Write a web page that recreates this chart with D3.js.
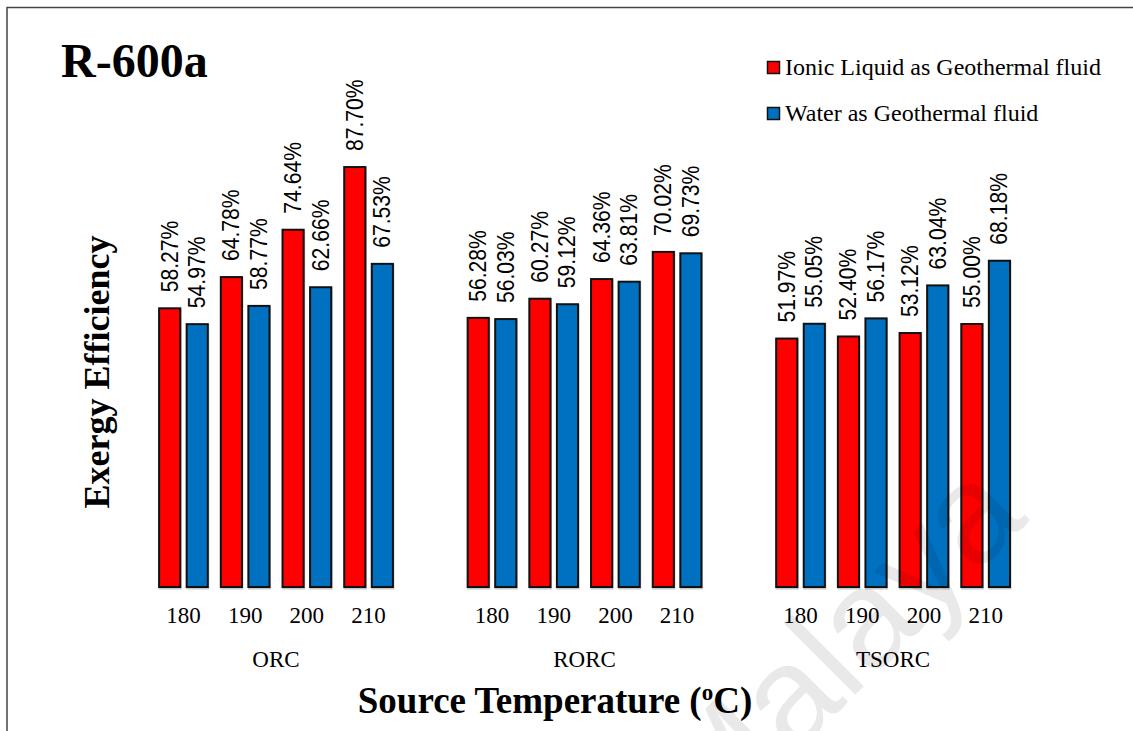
<!DOCTYPE html>
<html>
<head>
<meta charset="utf-8">
<title>R-600a exergy efficiency</title>
<script src="https://d3js.org/d3.v7.min.js"></script>
<style>
  body {margin: 0; background: white;}
  .serif {font-family: "Liberation Serif", "Times New Roman", serif; fill: black;}
  .lbl {font-family: "Liberation Sans", Arial, sans-serif; font-size: 23px; fill: black;}
</style>
</head>
<body>
<svg id="chart" width="1133" height="731"></svg>
<script>
// data
var cycles = ["ORC", "RORC", "TSORC"];
var temps = ["180", "190", "200", "210"];
var series = ["Ionic Liquid as Geothermal fluid", "Water as Geothermal fluid"];
var colors = ["#ff0000", "#0070c0"];
// values in %, one row per cycle, one entry per source temperature
var ionicLiquid = [
  [58.27, 64.78, 74.64, 87.70],
  [56.28, 60.27, 64.36, 70.02],
  [51.97, 52.40, 53.12, 55.00]
];
var water = [
  [54.97, 58.77, 62.66, 67.53],
  [56.03, 59.12, 63.81, 69.73],
  [55.05, 56.17, 63.04, 68.18]
];

var svg = d3.select("#chart");

// frame (top + left edge of the original figure)
svg.append("path")
  .attr("d", "M7,731V7.5H1133")
  .attr("fill", "none")
  .attr("stroke", "#444")
  .attr("stroke-width", 1.5);

var x = d3.scaleBand().domain(cycles).range([152.6, 1016.5]).paddingInner(0.2).paddingOuter(0);
var xt = d3.scaleBand().domain(temps).range([0, x.bandwidth()]);
var xs = d3.scaleBand().domain([0, 1]).range([5.5, xt.bandwidth() - 5.5]).paddingInner(0.16);
var y = d3.scaleLinear().domain([0, 100]).range([587, 107]);

var rows = [];
cycles.forEach(function(c, ci) {
  temps.forEach(function(t, ti) {
    [ionicLiquid[ci][ti], water[ci][ti]].forEach(function(v, si) {
      rows.push({cycle: c, temp: t, s: si, value: v});
    });
  });
});

function barX(d) { return x(d.cycle) + xt(d.temp) + xs(d.s); }

var bars = svg.append("g");
// faint shadow under bars
bars.selectAll("rect.sh").data(rows).join("rect")
  .attr("class", "sh")
  .attr("x", function(d) { return barX(d) + 0.5; })
  .attr("y", function(d) { return y(d.value) + 1; })
  .attr("width", xs.bandwidth())
  .attr("height", function(d) { return y(0) - y(d.value) + 1.5; })
  .attr("fill", "#c8c8c8");
bars.selectAll("rect.bar").data(rows).join("rect")
  .attr("class", "bar")
  .attr("x", function(d) { return barX(d) + 1; })
  .attr("y", function(d) { return y(d.value) + 1; })
  .attr("width", xs.bandwidth() - 2)
  .attr("height", function(d) { return y(0) - y(d.value) - 1; })
  .attr("fill", function(d) { return colors[d.s]; })
  .attr("stroke", "#111")
  .attr("stroke-width", 2);

// value labels
svg.append("g").selectAll("text").data(rows).join("text")
  .attr("class", "lbl")
  .attr("transform", function(d) {
    var cx = barX(d) + xs.bandwidth() / 2 + 8;
    return "translate(" + cx + "," + (y(d.value) - 15) + ") rotate(-90) scale(0.92,1)";
  })
  .text(function(d) { return d.value.toFixed(2) + "%"; });

// x axis: temperatures and cycles
var ax = svg.append("g").attr("class", "serif");
cycles.forEach(function(c) {
  ax.append("g").selectAll("text").data(temps).join("text")
    .attr("x", function(t) { return x(c) + xt(t) + xt.bandwidth() / 2; })
    .attr("y", 623)
    .attr("text-anchor", "middle")
    .attr("font-size", 23)
    .text(function(t) { return t; });
});
ax.append("g").selectAll("text").data(cycles).join("text")
  .attr("x", function(c) { return x(c) + x.bandwidth() / 2; })
  .attr("y", 667)
  .attr("text-anchor", "middle")
  .attr("font-size", 23)
  .text(function(c) { return c; });

var xtitle = svg.append("text")
  .attr("class", "serif")
  .attr("x", 555)
  .attr("y", 713)
  .attr("text-anchor", "middle")
  .attr("font-size", 37)
  .attr("font-weight", "bold");
xtitle.append("tspan").text("Source Temperature (");
xtitle.append("tspan").attr("font-size", 23).attr("dy", -13).text("o");
xtitle.append("tspan").attr("dy", 13).text("C)");

svg.append("text")
  .attr("class", "serif")
  .attr("transform", "translate(109,372) rotate(-90)")
  .attr("text-anchor", "middle")
  .attr("font-size", 36)
  .attr("font-weight", "bold")
  .text("Exergy Efficiency");

svg.append("text")
  .attr("class", "serif")
  .attr("x", 61)
  .attr("y", 77)
  .attr("font-size", 48)
  .attr("font-weight", "bold")
  .text("R-600a");

// legend
var leg = svg.append("g").selectAll("g").data(series).join("g")
  .attr("transform", function(d, i) { return "translate(767," + (61 + i * 46) + ")"; });
leg.append("rect")
  .attr("x", 0.5).attr("y", 0.5)
  .attr("width", 12).attr("height", 12)
  .attr("fill", function(d, i) { return colors[i]; })
  .attr("stroke", "#111")
  .attr("stroke-width", 1.5);
leg.append("text")
  .attr("class", "serif")
  .attr("x", 18)
  .attr("y", 13.5)
  .attr("font-size", 24)
  .text(function(d) { return d; });

// watermark
svg.append("text")
  .attr("transform", "translate(1030,520) rotate(-45)")
  .attr("text-anchor", "end")
  .attr("font-family", "Liberation Sans, Arial, sans-serif")
  .attr("font-size", 140)
  .attr("fill", "#000")
  .attr("fill-opacity", 0.085)
  .text("Malaya");
</script>
</body>
</html>
